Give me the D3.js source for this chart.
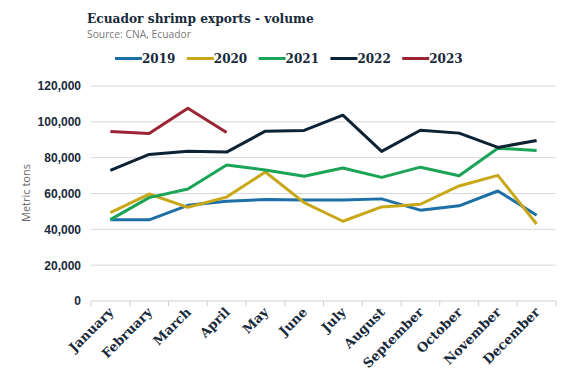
<!DOCTYPE html>
<html>
<head>
<meta charset="utf-8">
<script src="https://cdn.jsdelivr.net/npm/d3@7"></script>
<style>
  body { margin: 0; background: #fff; }
  svg { display: block; }
</style>
</head>
<body>
<svg id="chart" width="577" height="388"></svg>
<script>
const months = ['January', 'February', 'March', 'April', 'May', 'June', 'July',
  'August', 'September', 'October', 'November', 'December'];
const years = ['2019', '2020', '2021', '2022', '2023'];
const yTicks = [0, 20000, 40000, 60000, 80000, 100000, 120000];

const vol2019 = [45300, 45300, 53400, 55700, 56600, 56400, 56400, 57000, 50700, 53100, 61400, 47900];
const vol2020 = [49300, 59700, 52300, 58000, 72000, 54900, 44500, 52500, 54000, 64200, 70100, 43000];
const vol2021 = [45400, 57700, 62500, 75900, 73100, 69600, 74200, 69000, 74700, 69900, 85300, 84000];
const vol2022 = [72900, 81800, 83600, 83100, 94800, 95200, 103700, 83500, 95300, 93700, 85700, 89600];
const vol2023 = [94600, 93500, 107600, 94000];

const seriesColors = ['#1c70a6', '#c8a818', '#1aa455', '#0d2233', '#9b2437'];
const series = [vol2019, vol2020, vol2021, vol2022, vol2023].map((values, i) => ({
  year: years[i],
  color: seriesColors[i],
  values: values.map((v, j) => ({ month: months[j], v }))
}));

const svg = d3.select('#chart');
const plot = { left: 91, right: 556, top: 86, bottom: 301 };
const ink = '#17293a';

const x = d3.scaleBand().domain(months).range([plot.left, plot.right]);
const y = d3.scaleLinear().domain([0, 120000]).range([plot.bottom, plot.top]);

// title block
svg.append('text')
  .attr('x', 87).attr('y', 23)
  .attr('font-family', 'DejaVu Serif').attr('font-weight', 'bold')
  .attr('font-size', 12.2).attr('fill', ink)
  .text('Ecuador shrimp exports - volume');

svg.append('text')
  .attr('x', 87).attr('y', 38)
  .attr('font-family', 'Open Sans').attr('font-size', 10.3)
  .attr('fill', '#7a7a7a')
  .text('Source: CNA, Ecuador');

// legend
const legend = svg.append('g').selectAll('g')
  .data(series)
  .join('g')
  .attr('transform', (d, i) => `translate(${115 + i * 71.8},58.5)`);

legend.append('line')
  .attr('x1', 0).attr('x2', 27)
  .attr('stroke', d => d.color).attr('stroke-width', 3);

legend.append('text')
  .attr('x', 27).attr('y', 4.5)
  .attr('font-family', 'DejaVu Serif').attr('font-weight', 'bold')
  .attr('font-size', 12).attr('fill', ink)
  .text(d => d.year);

// gridlines
svg.append('g')
  .selectAll('line')
  .data(yTicks.filter(t => t > 0))
  .join('line')
  .attr('x1', plot.left).attr('x2', plot.right)
  .attr('y1', d => y(d)).attr('y2', d => y(d))
  .attr('stroke', '#d9d9d9').attr('stroke-width', 1);

// y axis labels
const yAxis = svg.append('g')
  .attr('transform', `translate(${plot.left},0)`)
  .call(d3.axisLeft(y).tickValues(yTicks).tickSize(0).tickPadding(10).tickFormat(d3.format(',')));
yAxis.select('.domain').remove();
yAxis.selectAll('text')
  .attr('font-family', 'Liberation Sans').attr('font-weight', 'bold')
  .attr('font-size', 12).attr('fill', ink);

svg.append('text')
  .attr('transform', `translate(30,193) rotate(-90)`)
  .attr('text-anchor', 'middle')
  .attr('font-family', 'Open Sans').attr('font-size', 11)
  .attr('fill', '#666')
  .text('Metric tons');

// x axis: ticks at band edges
const xAxis = svg.append('g')
  .attr('transform', `translate(0,${plot.bottom})`);
xAxis.append('line')
  .attr('x1', plot.left).attr('x2', plot.right)
  .attr('stroke', '#d0d0d0');
xAxis.selectAll('.edge')
  .data(months.map(m => x(m)).concat([plot.right]))
  .join('line')
  .attr('class', 'edge')
  .attr('x1', d => d).attr('x2', d => d)
  .attr('y1', 0).attr('y2', 5)
  .attr('stroke', '#d0d0d0');
xAxis.selectAll('.lbl')
  .data(months)
  .join('text')
  .attr('class', 'lbl')
  .attr('transform', d => `translate(${x(d) + x.bandwidth() / 2 + 4},${12}) rotate(-45)`)
  .attr('text-anchor', 'end')
  .attr('font-family', 'DejaVu Serif').attr('font-weight', 'bold')
  .attr('font-size', 13).attr('fill', ink)
  .text(d => d);

// lines
const line = d3.line()
  .x(d => x(d.month) + x.bandwidth() / 2)
  .y(d => y(d.v));

svg.append('g')
  .selectAll('path')
  .data(series)
  .join('path')
  .attr('d', d => line(d.values))
  .attr('fill', 'none')
  .attr('stroke', d => d.color)
  .attr('stroke-width', 3)
  .attr('stroke-linejoin', 'round');
</script>
</body>
</html>
